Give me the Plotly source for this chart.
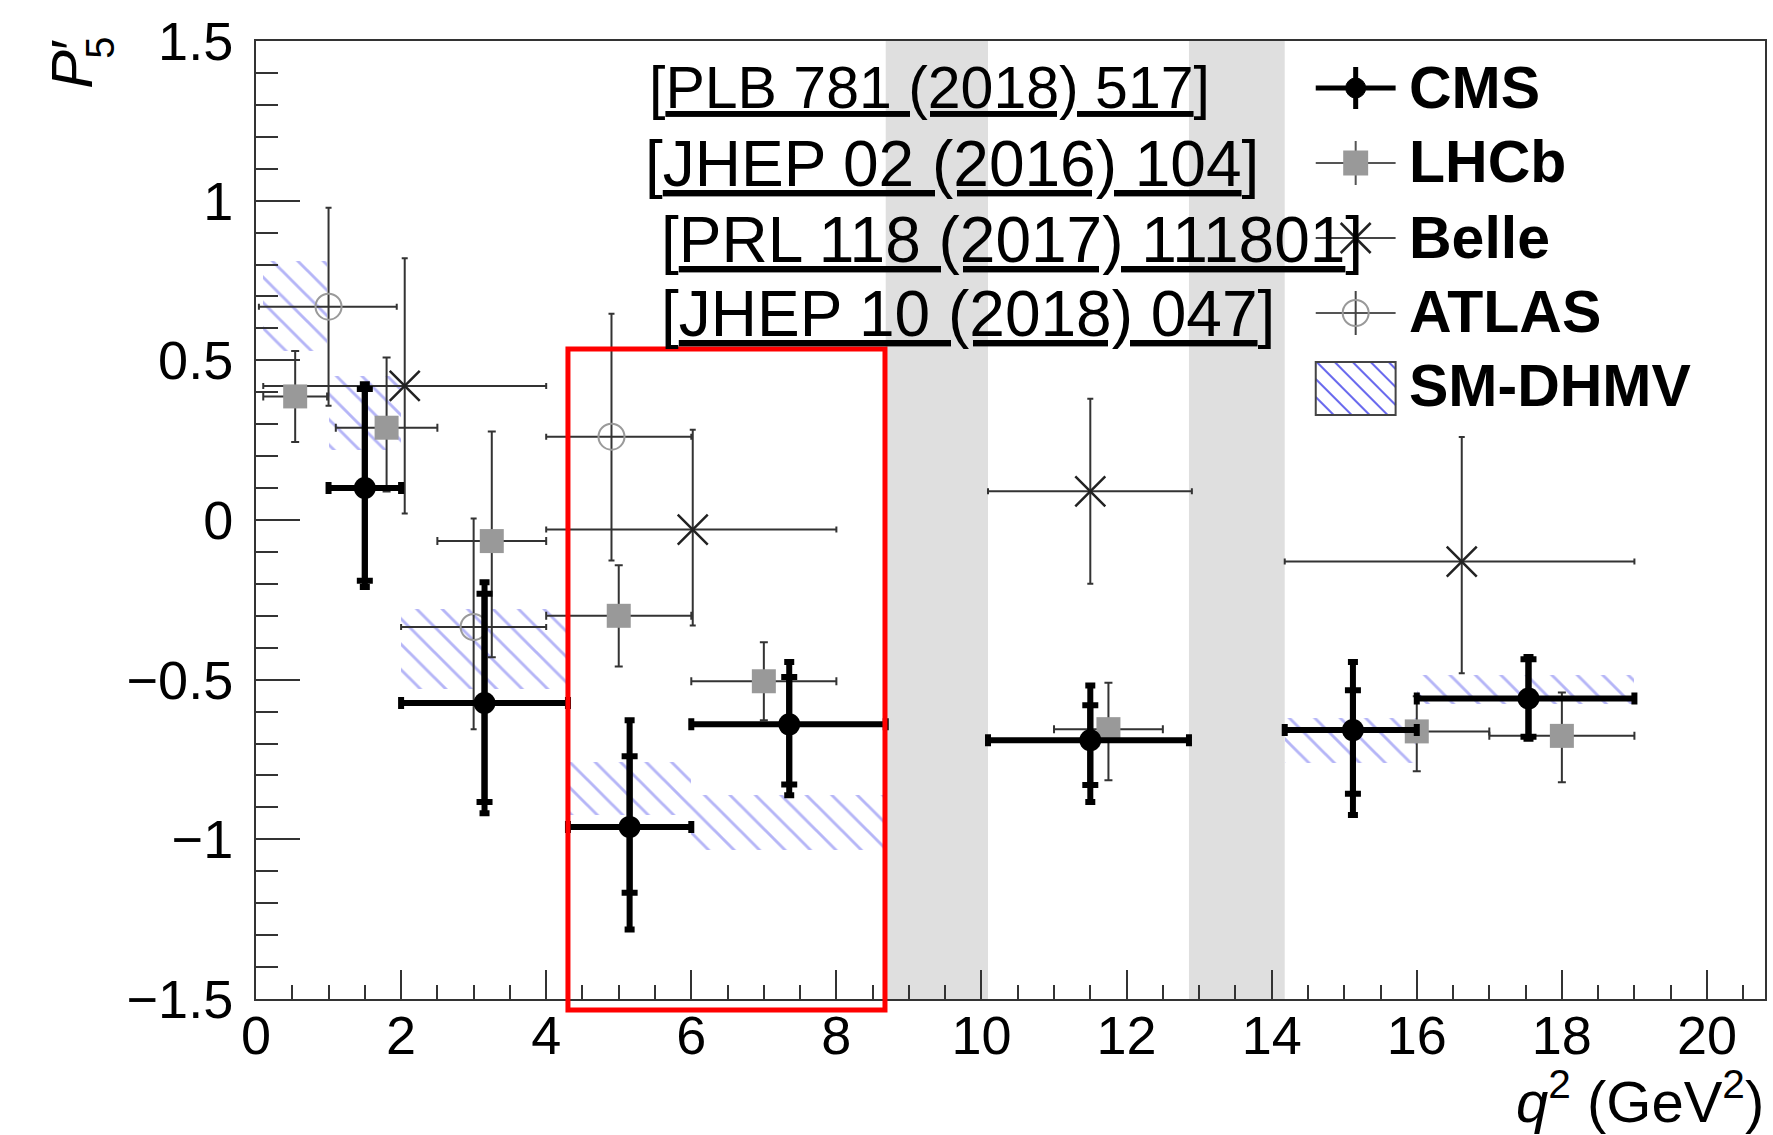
import plotly.graph_objects as go

# ---------------- data ----------------
# CMS  [PLB 781 (2018) 517]
cms_q2 = [1.5, 3.15, 5.15, 7.35, 11.5, 15.12, 17.54]
cms_bin_lo = [1.0, 2.0, 4.3, 6.0, 10.09, 14.18, 16.0]
cms_bin_hi = [2.0, 4.3, 6.0, 8.68, 12.86, 16.0, 19.0]
cms_p5 = [0.10, -0.573, -0.961, -0.64, -0.69, -0.658, -0.559]
cms_tot_up = [0.325, 0.378, 0.334, 0.195, 0.172, 0.213, 0.13]
cms_tot_dn = [0.31, 0.345, 0.321, 0.222, 0.193, 0.266, 0.126]
cms_stat_up = [0.31, 0.342, 0.221, 0.148, 0.11, 0.125, 0.123]
cms_stat_dn = [0.29, 0.31, 0.206, 0.188, 0.14, 0.199, 0.12]

# LHCb [JHEP 02 (2016) 104]
lhcb_q2 = [0.54, 1.8, 3.25, 5.0, 7.0, 11.75, 16.0, 18.0]
lhcb_bin_lo = [0.1, 1.1, 2.5, 4.0, 6.0, 11.0, 15.0, 17.0]
lhcb_bin_hi = [0.98, 2.5, 4.0, 6.0, 8.0, 12.5, 17.0, 19.0]
lhcb_p5 = [0.387, 0.289, -0.066, -0.300, -0.505, -0.655, -0.662, -0.676]
lhcb_up = [0.142, 0.22, 0.343, 0.158, 0.122, 0.145, 0.11, 0.136]
lhcb_dn = [0.143, 0.20, 0.364, 0.159, 0.122, 0.16, 0.125, 0.145]

# Belle [PRL 118 (2017) 111801]
belle_q2 = [2.05, 6.02, 11.5, 16.62]
belle_bin_lo = [0.1, 4.0, 10.09, 14.18]
belle_bin_hi = [4.0, 8.0, 12.9, 19.0]
belle_p5 = [0.42, -0.03, 0.09, -0.13]
belle_up = [0.40, 0.313, 0.29, 0.39]
belle_dn = [0.40, 0.30, 0.29, 0.35]

# ATLAS [JHEP 10 (2018) 047]
atlas_q2 = [1.0, 3.0, 4.9]
atlas_bin_lo = [0.04, 2.0, 4.0]
atlas_bin_hi = [1.94, 4.0, 6.0]
atlas_p5 = [0.668, -0.335, 0.261]
atlas_up = [0.31, 0.34, 0.385]
atlas_dn = [0.31, 0.32, 0.388]

# SM-DHMV prediction bands
dhmv_bin_lo = [0.1, 1.0, 2.0, 4.3, 6.0, 14.18, 16.0]
dhmv_bin_hi = [0.98, 2.0, 4.3, 6.0, 8.68, 16.0, 19.0]
dhmv_low = [0.53, 0.22, -0.53, -0.924, -1.034, -0.76, -0.575]
dhmv_high = [0.81, 0.45, -0.28, -0.757, -0.862, -0.62, -0.486]

# vetoed charmonium regions
veto_lo = [8.68, 12.86]
veto_hi = [10.09, 14.18]

# highlighted region
box_q2 = [4.3, 8.67]

references = ["PLB 781 (2018) 517", "JHEP 02 (2016) 104",
              "PRL 118 (2017) 111801", "JHEP 10 (2018) 047"]
legend_names = ["CMS", "LHCb", "Belle", "ATLAS", "SM-DHMV"]

x_ticks = [0, 2, 4, 6, 8, 10, 12, 14, 16, 18, 20]

# ---------------- figure ----------------
FONT = "Liberation Sans"
W, H = 1773, 1135
ML, MR, MT, MB = 255.5, 6, 41, 136
PW = W - ML - MR
PH = H - MT - MB


def px_x(p):
    return (p - ML) / PW


def px_y(p):
    return (H - MB - p) / PH


def xerrs(xs, lo, hi):
    return [h - x for x, h in zip(xs, hi)], [x - l for x, l in zip(xs, lo)]


HATCH_COL = "rgba(80,80,235,0.85)"
fig = go.Figure()

# SM-DHMV hatched boxes
fig.add_trace(go.Bar(
    x=[(a + b) / 2 for a, b in zip(dhmv_bin_lo, dhmv_bin_hi)],
    width=[b - a for a, b in zip(dhmv_bin_lo, dhmv_bin_hi)],
    base=dhmv_low,
    y=[h - l for l, h in zip(dhmv_low, dhmv_high)],
    name="SM-DHMV",
    marker=dict(color="rgba(0,0,0,0)", line=dict(width=0),
                pattern=dict(shape="\\", fgcolor=HATCH_COL,
                             bgcolor="rgba(0,0,0,0)", size=18, solidity=0.16)),
    showlegend=False, hoverinfo="skip"))

ERR_COL = "#333333"

# ATLAS
ep, em = xerrs(atlas_q2, atlas_bin_lo, atlas_bin_hi)
fig.add_trace(go.Scatter(
    x=atlas_q2, y=atlas_p5, mode="markers", showlegend=False, name="ATLAS",
    marker=dict(symbol="circle-open", size=26, color="#9a9a9a", line=dict(width=2)),
    error_x=dict(type="data", array=ep, arrayminus=em, color=ERR_COL, thickness=2, width=3),
    error_y=dict(type="data", array=atlas_up, arrayminus=atlas_dn, color=ERR_COL, thickness=2, width=3)))

# Belle
ep, em = xerrs(belle_q2, belle_bin_lo, belle_bin_hi)
fig.add_trace(go.Scatter(
    x=belle_q2, y=belle_p5, mode="markers", showlegend=False, name="Belle",
    marker=dict(symbol="x-thin", size=30, color="#222222", line=dict(width=2.5, color="#222222")),
    error_x=dict(type="data", array=ep, arrayminus=em, color=ERR_COL, thickness=2, width=3),
    error_y=dict(type="data", array=belle_up, arrayminus=belle_dn, color=ERR_COL, thickness=2, width=3)))

# LHCb
ep, em = xerrs(lhcb_q2, lhcb_bin_lo, lhcb_bin_hi)
fig.add_trace(go.Scatter(
    x=lhcb_q2, y=lhcb_p5, mode="markers", showlegend=False, name="LHCb",
    marker=dict(symbol="square", size=24, color="#999999"),
    error_x=dict(type="data", array=ep, arrayminus=em, color=ERR_COL, thickness=2, width=4),
    error_y=dict(type="data", array=lhcb_up, arrayminus=lhcb_dn, color=ERR_COL, thickness=2, width=4)))

# CMS total
ep, em = xerrs(cms_q2, cms_bin_lo, cms_bin_hi)
fig.add_trace(go.Scatter(
    x=cms_q2, y=cms_p5, mode="markers", showlegend=False, name="CMS",
    marker=dict(symbol="circle", size=22, color="black"),
    error_x=dict(type="data", array=ep, arrayminus=em, color="black", thickness=6, width=6),
    error_y=dict(type="data", array=cms_tot_up, arrayminus=cms_tot_dn, color="black", thickness=6, width=5)))
# CMS statistical ticks
fig.add_trace(go.Scatter(
    x=cms_q2, y=cms_p5, mode="markers", showlegend=False, name="CMS stat",
    marker=dict(symbol="circle", size=1, color="rgba(0,0,0,0)"),
    error_y=dict(type="data", array=cms_stat_up, arrayminus=cms_stat_dn, color="black", thickness=6, width=8)))

shapes = []
for a, b in zip(veto_lo, veto_hi):
    shapes.append(dict(type="rect", xref="x", yref="paper", x0=a, x1=b, y0=0, y1=1,
                       fillcolor="#dfdfdf", line=dict(width=0), layer="below"))
shapes.append(dict(type="rect", xref="x", yref="paper", x0=box_q2[0], x1=box_q2[1],
                   y0=px_y(1010), y1=px_y(349), line=dict(color="red", width=5),
                   fillcolor="rgba(0,0,0,0)", layer="above"))


# ---- legend key (drawn in pixel positions) ----
def seg(xa, ya, xb, yb, color, width):
    shapes.append(dict(type="line", xref="paper", yref="paper",
                       x0=px_x(xa), y0=px_y(ya), x1=px_x(xb), y1=px_y(yb),
                       line=dict(color=color, width=width)))


def circ(cx, cy, r, fill, color, width):
    shapes.append(dict(type="circle", xref="paper", yref="paper",
                       x0=px_x(cx - r), x1=px_x(cx + r), y0=px_y(cy + r), y1=px_y(cy - r),
                       fillcolor=fill, line=dict(color=color, width=width)))


def box(x0, y0, x1, y1, fill, color, width):
    shapes.append(dict(type="rect", xref="paper", yref="paper",
                       x0=px_x(x0), x1=px_x(x1), y0=px_y(y1), y1=px_y(y0),
                       fillcolor=fill, line=dict(color=color, width=width)))


LX0, LX1 = 1317, 1397
LCX = (LX0 + LX1) / 2
rows = [88, 163, 238, 313, 388]
# CMS
r = rows[0]
seg(LX0, r, LX1, r, "black", 5)
seg(LCX, r - 21, LCX, r + 21, "black", 5)
circ(LCX, r, 10, "black", "black", 1)
# LHCb
r = rows[1]
seg(LX0, r, LX1, r, "#555555", 2)
seg(LCX, r - 22, LCX, r + 22, "#555555", 2)
box(LCX - 12.5, r - 12.5, LCX + 12.5, r + 12.5, "#999999", "#999999", 0)
# Belle
r = rows[2]
seg(LX0, r, LX1, r, "#444444", 2)
seg(LCX, r - 22, LCX, r + 22, "#444444", 2)
seg(LCX - 15, r - 15, LCX + 15, r + 15, "#222222", 2.5)
seg(LCX - 15, r + 15, LCX + 15, r - 15, "#222222", 2.5)
# ATLAS
r = rows[3]
seg(LX0, r, LX1, r, "#555555", 2)
seg(LCX, r - 22, LCX, r + 22, "#444444", 2)
circ(LCX, r, 13, "rgba(0,0,0,0)", "#999999", 2)
# SM-DHMV hatched key box
bx0, by0, bx1, by1 = LX0, 362, LX1, 415
step = 18
c = bx0 - by1
while c < bx1 - by0:
    ya = max(by0, bx0 - c)
    yb = min(by1, bx1 - c)
    if yb > ya:
        seg(ya + c, ya, yb + c, yb, HATCH_COL, 2)
    c += step
box(bx0, by0, bx1, by1, "rgba(0,0,0,0)", "#444444", 2)

annotations = []
ref_left = [647, 643, 659, 659]
ref_y = [88, 164, 240, 314]
ref_size = [59, 64, 64, 64]
for txt, xl, yc, fs in zip(references, ref_left, ref_y, ref_size):
    annotations.append(dict(text="[<u>" + txt + "</u>]", xref="paper", yref="paper",
                            x=px_x(xl), y=px_y(yc), xanchor="left", yanchor="middle",
                            showarrow=False, font=dict(family=FONT, size=fs, color="black")))
leg_y = [88, 162, 238, 312, 386]
for name, yc in zip(legend_names, leg_y):
    annotations.append(dict(text="<b>" + name + "</b>", xref="paper", yref="paper",
                            x=px_x(1408), y=px_y(yc), xanchor="left", yanchor="middle",
                            showarrow=False, font=dict(family=FONT, size=59, color="black")))

# y-axis title  P'_5
annotations.append(dict(text="<i>P</i>′", xref="paper", yref="paper",
                        x=px_x(70), y=px_y(64), xanchor="center", yanchor="middle",
                        textangle=-90, showarrow=False,
                        font=dict(family=FONT, size=58, color="black")))
annotations.append(dict(text="5", xref="paper", yref="paper",
                        x=px_x(99), y=px_y(48), xanchor="center", yanchor="middle",
                        textangle=-90, showarrow=False,
                        font=dict(family=FONT, size=40, color="black")))
# x-axis title
annotations.append(dict(text="<i>q</i><sup>2</sup> (GeV<sup>2</sup>)", xref="paper", yref="paper",
                        x=px_x(1768), y=px_y(1097), xanchor="right", yanchor="middle",
                        showarrow=False, font=dict(family=FONT, size=58, color="black")))

AX_COL = "#333333"
fig.update_layout(
    width=W, height=H,
    margin=dict(l=ML, r=MR, t=MT, b=MB, pad=0),
    paper_bgcolor="white", plot_bgcolor="white",
    barmode="overlay", bargap=0,
    font=dict(family=FONT, color="black"),
    shapes=shapes, annotations=annotations,
    showlegend=False,
    xaxis=dict(range=[0, 20.8], tickvals=x_ticks, ticks="inside", ticklen=29, tickwidth=2,
               tickcolor=AX_COL, showline=True, linecolor=AX_COL, linewidth=2, mirror=True,
               showgrid=False, zeroline=False, tickfont=dict(family=FONT, size=54, color="black"),
               ticklabelstandoff=-12,
               minor=dict(dtick=0.5, tick0=0, ticks="inside", ticklen=14, tickwidth=2,
                          tickcolor=AX_COL, showgrid=False)),
    yaxis=dict(range=[-1.5, 1.5], dtick=0.5, tick0=-1.5, ticks="inside", ticklen=44, tickwidth=2,
               tickcolor=AX_COL, showline=True, linecolor=AX_COL, linewidth=2, mirror=True,
               showgrid=False, zeroline=False, tickfont=dict(family=FONT, size=54, color="black"),
               ticklabelstandoff=10,
               minor=dict(dtick=0.1, tick0=-1.5, ticks="inside", ticklen=22, tickwidth=2,
                          tickcolor=AX_COL, showgrid=False)),
)

fig.write_html("out.html")
